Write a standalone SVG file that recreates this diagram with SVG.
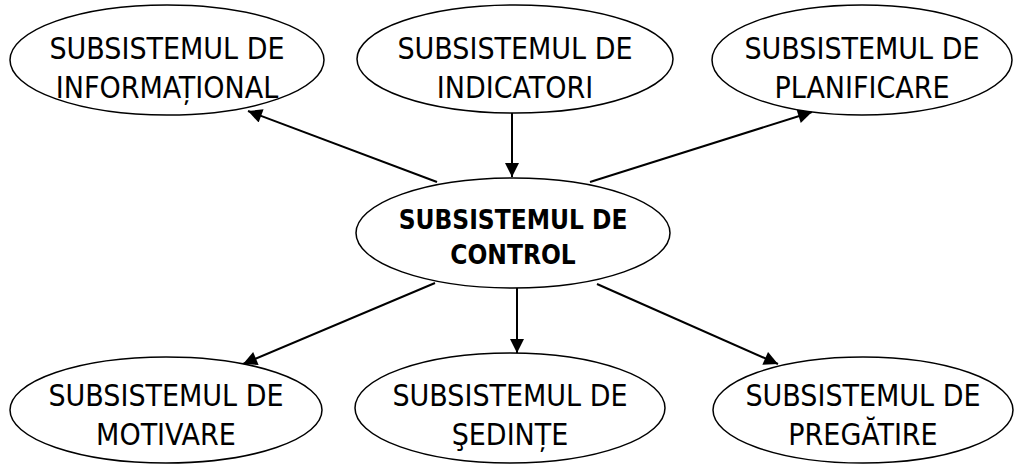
<svg xmlns="http://www.w3.org/2000/svg" width="1014" height="464" viewBox="0 0 1014 464">
<style>
.n ellipse{fill:#fff;stroke:#000;stroke-width:1.5}
.t{font-family:"DejaVu Sans Condensed","DejaVu Sans",sans-serif;font-size:30px;fill:#000;text-anchor:middle}
.b{font-family:"DejaVu Sans Condensed","DejaVu Sans",sans-serif;font-size:26px;font-weight:bold;fill:#000;text-anchor:middle}
.c line{stroke:#000;stroke-width:2}
</style>
<defs>
<marker id="a" viewBox="0 0 10 10" refX="10" refY="5" markerWidth="8" markerHeight="7" markerUnits="strokeWidth" orient="auto">
<path d="M0,0 L10,5 L0,10 z" fill="#000"/>
</marker>
</defs>
<rect width="1014" height="464" fill="#fff"/>
<g class="c">
<line x1="437" y1="182" x2="248" y2="111" marker-end="url(#a)"/>
<line x1="512" y1="113" x2="512" y2="177" marker-end="url(#a)"/>
<line x1="590" y1="182" x2="812" y2="112" marker-end="url(#a)"/>
<line x1="435" y1="283" x2="243" y2="364" marker-end="url(#a)"/>
<line x1="517" y1="288" x2="517" y2="353" marker-end="url(#a)"/>
<line x1="597" y1="284" x2="778" y2="364" marker-end="url(#a)"/>
</g>
<g id="informational" class="n"><ellipse cx="167" cy="60" rx="157" ry="55"/><text class="t" x="167" y="59">SUBSISTEMUL DE</text><text class="t" x="167" y="98">INFORMAȚIONAL</text></g>
<g id="indicatori" class="n"><ellipse cx="515" cy="59" rx="158" ry="54"/><text class="t" x="515" y="59">SUBSISTEMUL DE</text><text class="t" x="515" y="98">INDICATORI</text></g>
<g id="planificare" class="n"><ellipse cx="862" cy="60" rx="150" ry="55"/><text class="t" x="862" y="59">SUBSISTEMUL DE</text><text class="t" x="862" y="98">PLANIFICARE</text></g>
<g id="control" class="n"><ellipse cx="513" cy="233" rx="157" ry="55"/><text class="b" x="513" y="229">SUBSISTEMUL DE</text><text class="b" x="513" y="264">CONTROL</text></g>
<g id="motivare" class="n"><ellipse cx="166" cy="410" rx="156" ry="53"/><text class="t" x="166" y="406">SUBSISTEMUL DE</text><text class="t" x="166" y="445">MOTIVARE</text></g>
<g id="sedinte" class="n"><ellipse cx="510" cy="408" rx="155" ry="55"/><text class="t" x="510" y="406">SUBSISTEMUL DE</text><text class="t" x="510" y="445">ŞEDINȚE</text></g>
<g id="pregatire" class="n"><ellipse cx="863" cy="410" rx="150" ry="53"/><text class="t" x="863" y="406">SUBSISTEMUL DE</text><text class="t" x="863" y="445">PREGĂTIRE</text></g>
</svg>
